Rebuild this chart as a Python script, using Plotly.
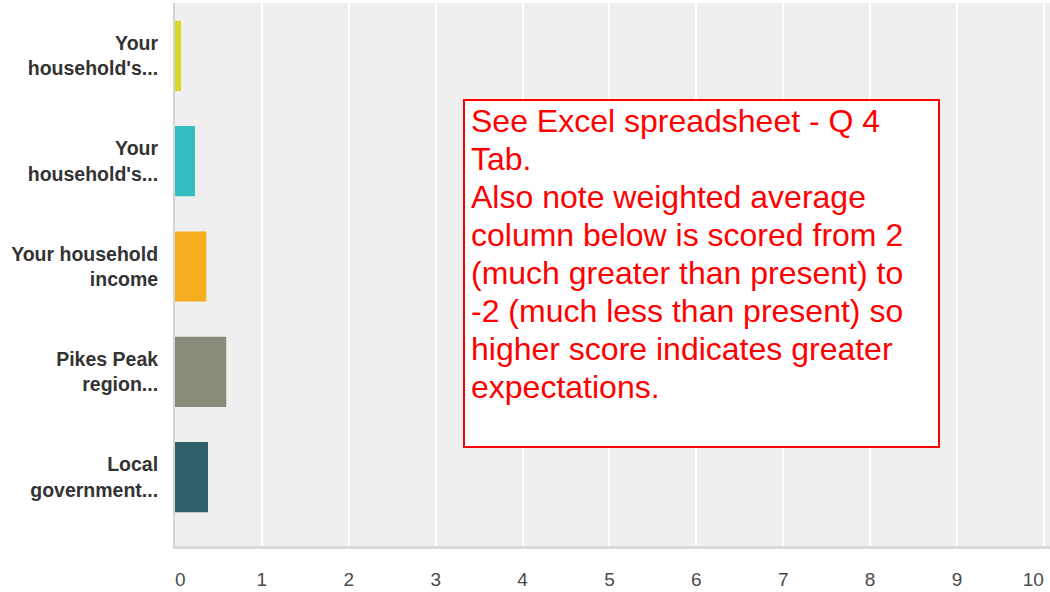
import plotly.graph_objects as go

# Survey question items (top to bottom) and their bar values
categories = [
    "Your<br>household's...",
    "Your<br>household's...",
    "Your household<br>income",
    "Pikes Peak<br>region...",
    "Local<br>government...",
]
values = [0.07, 0.23, 0.36, 0.59, 0.38]
bar_colors = ["#d3d82b", "#35bec1", "#f7ae1e", "#8a8b79", "#2f606c"]
x_ticks = list(range(0, 11))

note_lines = [
    "See Excel spreadsheet - Q 4",
    "Tab.",
    "Also note weighted average",
    "column below is scored from 2",
    "(much greater than present) to",
    "-2 (much less than present) so",
    "higher score indicates greater",
    "expectations.",
]

# use index positions so the duplicate labels stay as separate rows
ypos = list(range(len(categories)))

# edge labels nudged inwards like the original export
tick_text = [str(t) for t in x_ticks]
tick_text[0] = "\u00a0\u00a0" + tick_text[0]
tick_text[-1] = tick_text[-1] + "\u00a0\u00a0\u00a0\u00a0"

fig = go.Figure(go.Bar(
    x=values,
    y=ypos,
    orientation="h",
    marker=dict(color=bar_colors, line=dict(width=0)),
    width=0.667,
    hoverinfo="x",
))

W, H = 1050, 592
M_L, M_R, M_T, M_B = 175, 0, 3, 46
fig.update_layout(
    width=W, height=H,
    margin=dict(l=M_L, r=M_R, t=M_T, b=M_B),
    plot_bgcolor="#efefef",
    paper_bgcolor="white",
    showlegend=False,
    font=dict(family="Liberation Sans, Arial, sans-serif", color="#333333"),
)

fig.update_xaxes(
    range=[0, 10.07],
    tickvals=x_ticks,
    ticktext=tick_text,
    ticklabeloverflow="allow",
    tickfont=dict(size=19, color="#4a4a4a"),
    ticks="outside", ticklen=14, tickcolor="rgba(0,0,0,0)",
    showgrid=True, gridcolor="white", gridwidth=2,
    showline=True, linecolor="#d9d9d9", linewidth=3,
    zeroline=False, automargin=False,
)

fig.update_yaxes(
    tickvals=ypos,
    ticktext=categories,
    range=[4.655, -0.503],
    tickfont=dict(size=19.5, color="#333333", weight="bold"),
    ticks="outside", ticklen=11, tickcolor="rgba(0,0,0,0)",
    showgrid=False,
    showline=True, linecolor="#d4d4d4", linewidth=2,
    zeroline=False, automargin=False,
)

# helpers to place things by pixel inside the plot area
plot_h = H - M_T - M_B
plot_w = W - M_L - M_R


def px_x(x):
    return (x - M_L) / plot_w


def px_y(y):
    return (H - M_B - y) / plot_h


# red bordered note box
fig.add_shape(
    type="rect", xref="paper", yref="paper",
    x0=px_x(464), x1=px_x(939), y0=px_y(447), y1=px_y(100),
    line=dict(color="#ff0000", width=2),
    fillcolor="white",
    layer="above",
)

for i, line in enumerate(note_lines):
    fig.add_annotation(
        xref="paper", yref="paper",
        x=px_x(469), y=px_y(121 + 38 * i),
        xanchor="left", yanchor="middle",
        align="left",
        text=line,
        showarrow=False,
        font=dict(size=32, color="#ff0000"),
    )

# drop the default body margin so the figure sits at the window corner
fig.write_html("out.html", config={"displayModeBar": False},
               post_script="document.body.style.margin='0';")
